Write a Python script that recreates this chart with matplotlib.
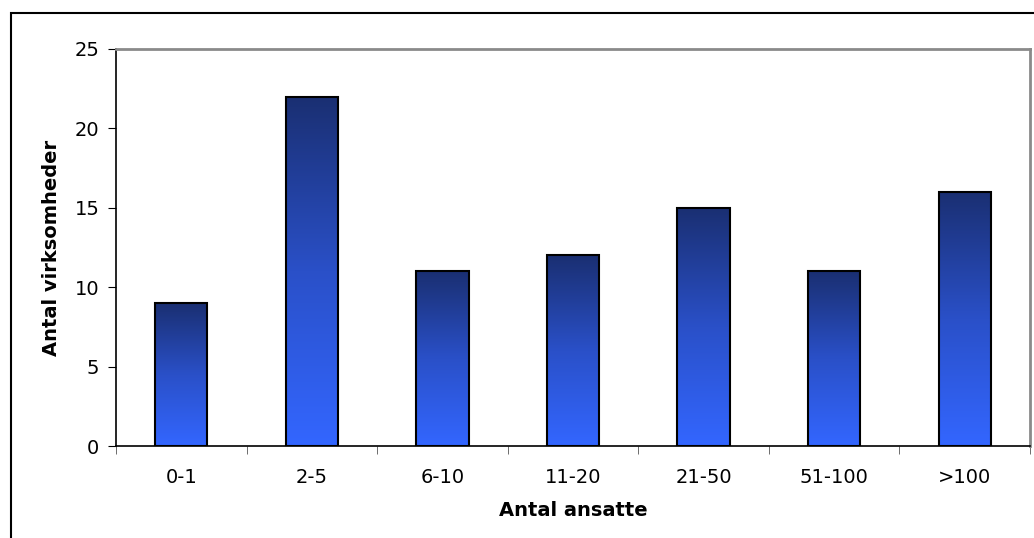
import matplotlib
matplotlib.use("Agg")
import matplotlib.pyplot as plt
import numpy as np
from matplotlib.colors import LinearSegmentedColormap
from matplotlib.patches import Rectangle

categories = ["0-1", "2-5", "6-10", "11-20", "21-50", "51-100", ">100"]
values = [9, 22, 11, 12, 15, 11, 16]
y_ticks = [0, 5, 10, 15, 20, 25]

plt.rcParams['font.family'] = ['DejaVu Sans']

fig = plt.figure(figsize=(10.34, 5.38), dpi=100)
ax = fig.add_axes([116/1034, 1 - 446/538, (1030-116)/1034, (446-49)/538])

x = np.arange(len(categories))
width = 0.4
bars = ax.bar(x, values, width=width, facecolor='none', edgecolor='black', linewidth=1.5, zorder=3)

cmap = LinearSegmentedColormap.from_list("g", ["#3366ff", "#2a50c8", "#1a2f72"])
grad = np.linspace(0, 1, 256).reshape(-1, 1)
for b in bars:
    x0, w, h = b.get_x(), b.get_width(), b.get_height()
    im = ax.imshow(grad, extent=(x0, x0 + w, 0, h), origin='lower', aspect='auto', cmap=cmap, zorder=2)
    im.set_clip_path(b)

ax.set_xlim(-0.5, len(categories) - 0.5)
ax.set_ylim(0, 25)
ax.set_yticks(y_ticks)
ax.set_xticks(x)
ax.set_xticklabels(categories)
ax.set_xticks(np.arange(-0.5, len(categories), 1), minor=True)
ax.tick_params(axis='x', which='major', length=0, pad=16, labelsize=14)
ax.tick_params(axis='x', which='minor', length=6, direction='out', color='#555555')
ax.tick_params(axis='y', length=6, direction='out', labelsize=14, pad=6)

for s in ['left', 'bottom']:
    ax.spines[s].set_color('black')
    ax.spines[s].set_linewidth(1.2)
for s in ['top', 'right']:
    ax.spines[s].set_color('#8a8a8a')
    ax.spines[s].set_linewidth(2)

ax.set_xlabel("Antal ansatte", fontsize=14, fontweight='bold', labelpad=10)
ax.set_ylabel("Antal virksomheder", fontsize=14, fontweight='bold', labelpad=10)

border = Rectangle((11/1034, -0.1), 1.2, 1.1 - 13/538, transform=fig.transFigure,
                   fill=False, edgecolor='black', linewidth=1.5, clip_on=False)
fig.patches.append(border)

fig.savefig("out.png", dpi=100)
